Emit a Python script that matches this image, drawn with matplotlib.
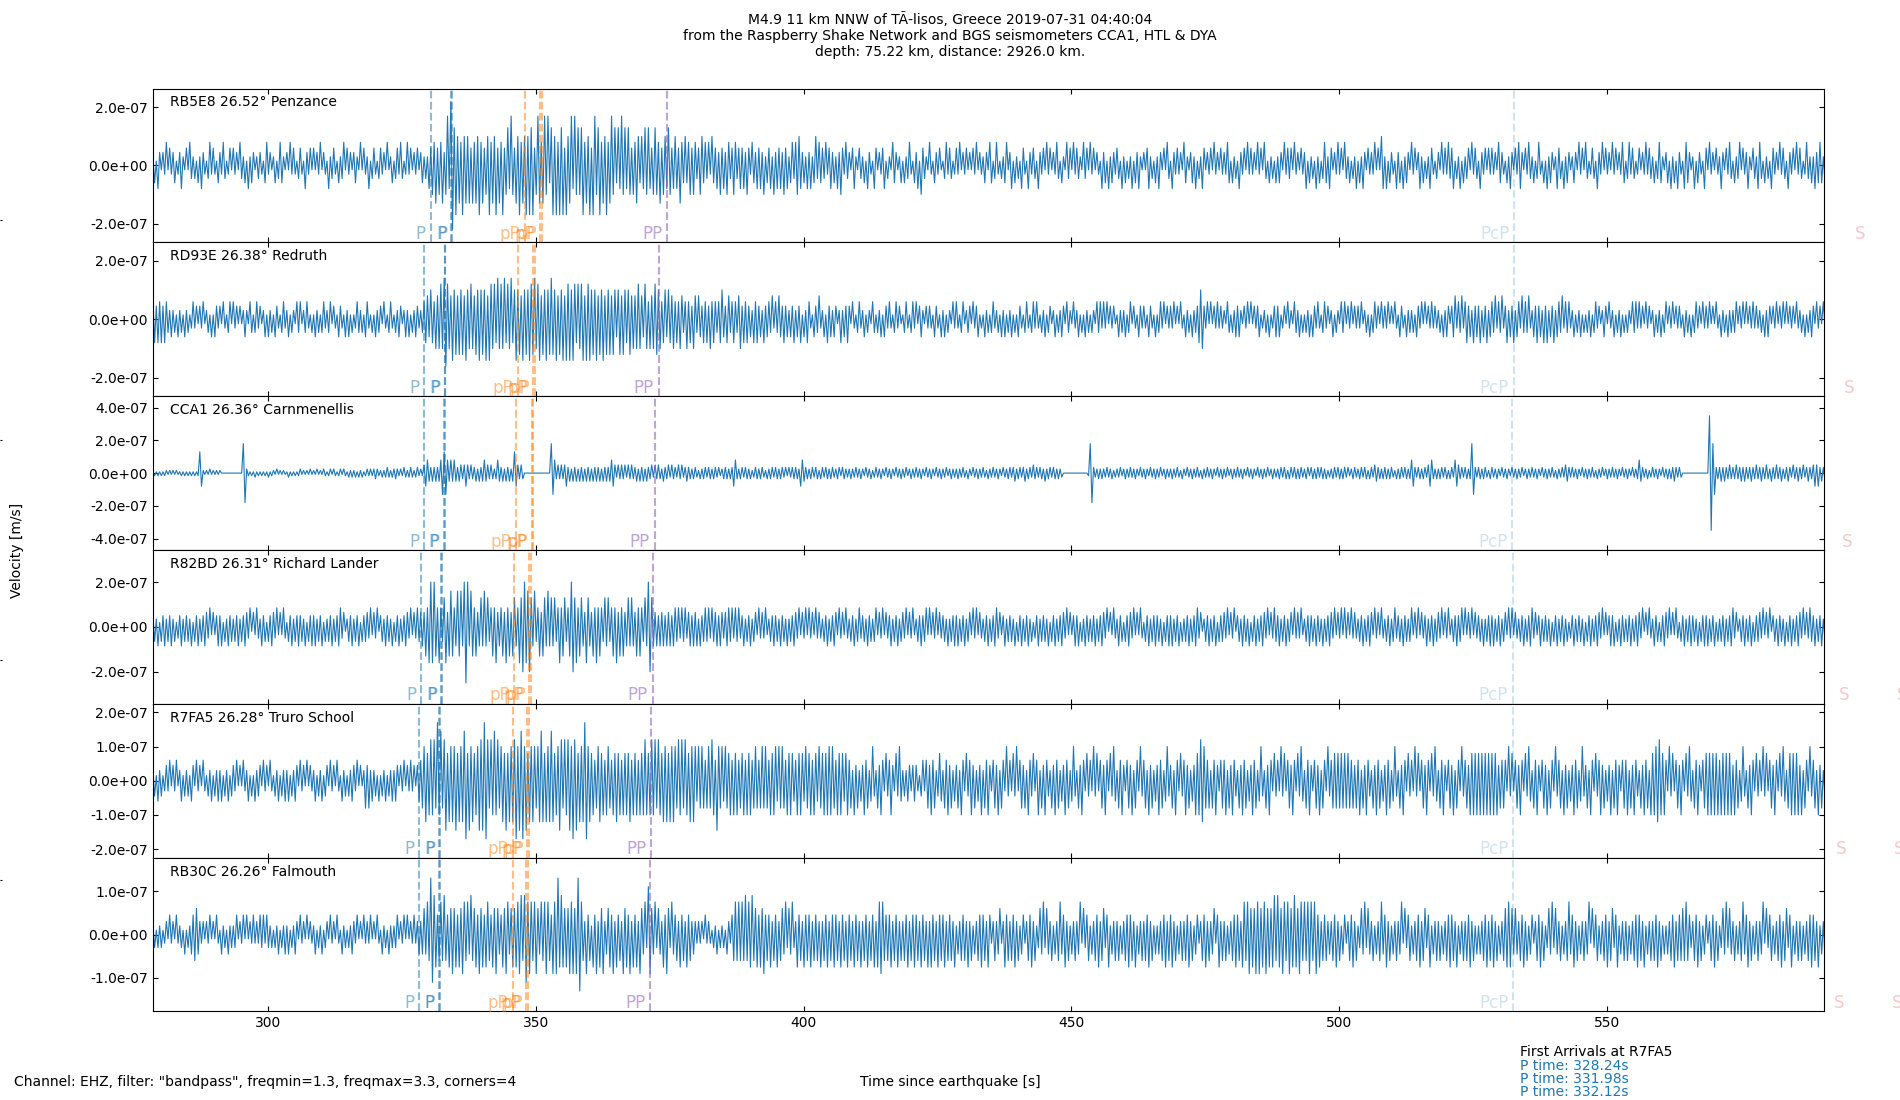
import matplotlib.pyplot as plt
import numpy as np
from matplotlib.ticker import FormatStrFormatter
from matplotlib.transforms import blended_transform_factory

# waveform samples: one digit per half-cycle peak, sign alternates up/down,
# each string is 10 s of trace (32 peaks), digit -> amplitude level (1e-7 m/s)
START = 278.5
DT = 0.3125

stations = ["RB5E8", "RD93E", "CCA1", "R82BD", "R7FA5", "RB30C"]
distances = [26.52, 26.38, 26.36, 26.31, 26.28, 26.26]
places = ["Penzance", "Redruth", "Carnmenellis", "Richard Lander", "Truro School", "Falmouth"]

p_times = [[330.37, 334.2, 334.35], [329.2, 332.95, 333.1], [329.08, 332.8, 332.95],
           [328.6, 332.3, 332.45], [328.24, 331.98, 332.12], [328.2, 331.9, 332.05]]
pp_depth_times = [[347.95, 350.75, 351.1], [346.6, 349.5, 349.85], [346.3, 349.2, 349.5],
                  [346.0, 348.7, 349.1], [345.7, 348.4, 348.7], [345.7, 348.2, 348.6]]
pp_times = [374.55, 372.9, 372.2, 371.8, 371.5, 371.3]
pcp_times = [532.7, 532.6, 532.3, 532.4, 532.5, 532.5]
s_times = [[599.2, 610.1], [597.1, 608.0], [596.7, 607.6],
           [596.1, 607.0], [595.5, 606.4], [595.2, 606.1]]

y_limits = [2.65e-7, 2.62e-7, 4.7e-7, 3.43e-7, 2.25e-7, 1.77e-7]
y_ticks = [[-2e-7, 0, 2e-7], [-2e-7, 0, 2e-7], [-4e-7, -2e-7, 0, 2e-7, 4e-7],
           [-2e-7, 0, 2e-7], [-2e-7, -1e-7, 0, 1e-7, 2e-7], [-1e-7, 0, 1e-7]]

rb5e8_levels = [0, .15, .3, .45, .6, .8, 1.0, 1.3, 1.7, 2.2]
rb5e8_peaks = [
    "24153132 51423412 35214153 23142532", "13524214 32531241 42315324 15243123",
    "32145231 24135421 31524213 42153241", "41325132 15234214 23514231 34215142",
    "25134213 42315124 13425312 52413241", "34232546 57465736 85997867 58676747",
    "57685746 68576847 58467586 47685768", "68784687 57868478 68587848 67858676",
    "78576848 86785768 57867475 86757646", "57646576 75467657 46657645 65475464",
    "56465346 64535264 45364536 53465345", "45364254 35453624 45263545 36452453",
    "56653425 35246354 43524534 25364253", "31452143 24153215 41324513 21543124",
    "14235214 35164321 52143241 13524312", "42513241 31425132 24315413 52132451",
    "35142315 42153243 15324152 41325314", "21534152 43215341 52413215 34152432",
    "43152413 25143521 31452314 25314153", "15324231 54213425 13254132 41523142",
    "32541423 15324152 42315241 53142314", "24315243 41523142 35142315 24135425",
    "41325241 53241325 14253142 32514165", "25143215 34152431 52413524 13254213",
    "31524253 45132514 23415243 15324142", "42315432 14253142 55314253 24135214",
    "15243125 43152431 24315241 53124315", "32514231 52413254 13524312 41325243",
    "24135421 34152415 32155431 25143215", "41523142 25314253 14235142 35214325",
    "53142315 42315243 15324152 43125324", "25345424",
]

rd93e_levels = [0, .15, .3, .45, .6, .8, 1.0, 1.2, 1.4, 1.6]
rd93e_peaks = [
    "45354535 43242314 23142312 42313241", "23141432 31421341 42313124 21431342",
    "31241423 14321342 24132143 41234213", "14231342 23413214 32142413 12432314",
    "42131423 31421342 13243124 24132432", "23455465 46567689 76586757 67586676",
    "57686768 58767586 76857685 68675867", "68778678 57686787 68576858 78687576",
    "78587867 68576857 67576467 57656756", "56765476 46567766 45646556 45465346",
    "45365354 35453645 43456435 53454356", "35453425 45342534 43524354 35342435",
    "24351425 42143352 24153424 31252435", "31421342 24132143 13241432 42134231",
    "13421342 41342132 32143214 24132142", "42134123 31423412 14231342 23142413",
    "24131432 13421342 42132413 31241324", "31432142 24131423 13214342 42413231",
    "14232413 41321432 32143214 13424132", "32413142 14231423 35663241 41324232",
    "21431324 34213241 41323412 23141234", "34123142 21432413 13241432 42134231",
    "24132143 41324132 32412314 13423142", "32413142 14321423 23143241 41324232",
    "23142431 34524352 45342534 35243524", "43524352 35243524 42534352 24353425",
    "35243524 43524342 24132413 13241342", "31243142 24132413 13214342 42314231",
    "24132413 41324132 32142314 13423142", "32413142 14231423 23413241 41324232",
    "23142431 32413241 41323142 23141324", "31423142",
]

cca1_levels = [0, .08, .16, .25, .35, .5, .8, 1.3, 1.8, 3.5]
cca1_peaks = [
    "12121212 21212121 12121212 12127621", "21312121 20000000 00000088 32121312",
    "12121312 21312121 13121212 31212131", "21312132 12313212 31321323 23132312",
    "32323432 23234323 34323243 23432342", "32566545 45456777 65656545 54565454",
    "45354565 54543465 45354535 76545400", "00000000 00000087 64545456 45354535",
    "45354535 45453545 45665354 54535454", "45354535 44535454 35445354 43545345",
    "44344324 34434434 43423444 34466434", "43443423 44344324 34434434 43424344",
    "44366544 34434424 43443443 34424433", "34334334 32433423 43343243 34324334",
    "33423433 43343243 34324334 33423433", "34334324 32433433 43243343 34324334",
    "43453443 45344354 43443534 43443433", "00000000 00000002 88433434 33433423",
    "33423433 43343243 34324334 33423433", "34334324 32433433 43243343 34324334",
    "33423433 43343243 34324334 33423433", "34434424 43443443 34424434 43443423",
    "34434434 43423443 34434424 43554434", "44344324 34434434 66434434 43566434",
    "34434424 43665443 44348743 44344324", "43343243 34324334 33423433 43343243",
    "34334324 33435543 43343243 34334324", "33423433 43343243 34324334 65433423",
    "43343243 34344543 43000000 00000000", "00998744 45454454 44544545 44454454",
    "45445435 44544534 45435445 44534544", "56564545",
]

r82bd_levels = [0, .2, .35, .5, .65, .85, 1.3, 1.6, 2.0, 2.5]
r82bd_peaks = [
    "34251435 24352413 35243425 14352435", "43524235 35142534 24352435 43514253",
    "25341435 43524253 14352435 34251435", "35243514 24352435 53412435 24351434",
    "43524351 34253425 14352435 43524354", "45465787 86575467 46765576 75898576",
    "56456575 64565745 56475646 65576887", "78657456 46657565 64575664 56886756",
    "65476546 57565465 64565746 56456565", "46565465 88654535 45354535 54535453",
    "45354525 34545354 45354345 54535453", "35243524 42534352 24353425 34252435",
    "43524352 53425343 24352435 42534253", "24352453 34253424 52435243 35243524",
    "43524352 24353452 52435243 34252435", "35243524 42535243 24352435 53423524",
    "34251435 24352413 35243425 14352435", "43524235 35142534 24352435 43514253",
    "25341435 43524253 14352435 34251435", "35243514 24352435 53412435 24351434",
    "43524351 34253425 14352435 43524354", "35243524 42534352 24353425 34252435",
    "43524352 53425343 24352435 42534253", "24352453 34253424 52435243 35243524",
    "43524352 24353452 52435243 34252435", "35243524 42535243 24352435 53423524",
    "34251435 24352413 35243425 14352435", "43524235 35142534 24352435 43514253",
    "25341435 43524253 14352435 34251435", "35243514 24352435 53412435 24351434",
    "43524351 34253425 14352435 43524354", "35243524",
]

r7fa5_levels = [0, .15, .3, .45, .6, .8, 1.0, 1.2, 1.45, 1.7]
r7fa5_peaks = [
    "23142312 32413241 24132314 31423142", "13241324 24132413 32413142 24131423",
    "31423142 13241324 24132431 42314132", "24132413 31423142 14231324 32413125",
    "35242314 13241324 24313241 32423134", "45675676 75968578 57676857 67895867",
    "56687899 75768675 67585767 79688968", "57676567 87576787 56687576 78697857",
    "67996756 45675646 65465756 46565746", "56465676 56767576 57675767 65767576",
    "57676465 65456576 48656465 56465645", "56465645 65456565 46566465 65465654",
    "46565465 56465465 56566665 46565456", "45263524 36452463 25364253 46325364",
    "23243234 32134245 36452354 25463524", "35264253 46352436 25463245 36254263",
    "42536245 35264352 46253643 25364524", "36452463 25364253 42635245 36425364",
    "25463245 36254263 45263524 36452463", "35264253 46352436 56776545 25463245",
    "46253643 25364524 36452463 25364253", "42635245 36425364 25463245 36254263",
    "45555555 55554535 46253643 25364524", "36452463 25364253 42635245 36425364",
    "25463245 36254263 45365656 56565656", "56563545 42635245 36425364 25463245",
    "36254263 45263524 36452463 35264253", "46352436 25463245 46253643 25364526",
    "56677656 42635245 36425364 25463245", "56565656 46565656 36452463 25364253",
    "42635245 36425364 25565656 36254263", "45263524",
]

rb30c_levels = [0, .1, .2, .3, .45, .6, .75, .9, 1.1, 1.3]
rb30c_peaks = [
    "23132312 31423142 23141324 45543231", "32413142 14231423 23413241 41324232",
    "43424323 13241324 24132431 42314132", "24132413 31423142 14231324 32413142",
    "32413142 14231423 23413241 41324234", "34546598 76456575 46575646 57656475",
    "56475646 65465754 46576456 56677578", "67656754 65676547 67967656 57675799",
    "65374526 47365734 56473645 37564736", "46375463 87546354 36475364 45364536",
    "45343232 31423213 24132314 32456565", "65756675 56465745 46354635 54635463",
    "36453645 46354536 35463546 45364536", "45364536 35463546 36676545 46354635",
    "35463546 45364536 36453645 46354536", "24354536 35243546 45364235 34523645",
    "35463524 42354635 23546354 35243564", "46352435 34625345 24354635 53462435",
    "35243546 45362435 35463524 24354635", "46352435 35463524 42354635 34524635",
    "35243546 45366567 56576756 67565675", "76576567 56765765 65676567 46354534",
    "35463524 42354635 23546354 35243564", "46352435 34625345 24354635 53462435",
    "35243546 45362435 35463524 24354635", "46352435 56665454 35463524 42354635",
    "23546354 35243564 46352435 34625345", "24354635 53462435 35243546 45362435",
    "35463524 24354635 45556543 35463524", "42354635 23546354 35243564 46352435",
    "34625345 24354635 53462435 35243546", "45362435",
]

traces = [rb5e8_peaks, rd93e_peaks, cca1_peaks, r82bd_peaks, r7fa5_peaks, rb30c_peaks]
levels = [rb5e8_levels, rd93e_levels, cca1_levels, r82bd_levels, r7fa5_levels, rb30c_levels]


def velocity(chunks, lev):
    digits = "".join(chunks).replace(" ", "")
    amp = np.array([lev[int(d)] for d in digits]) * 1e-7
    return amp * np.resize([1.0, -1.0], amp.size)


fig, axes = plt.subplots(6, 1, sharex=True, figsize=(19, 11), dpi=100)
fig.subplots_adjust(left=0.0805, right=0.96, bottom=0.0805, top=0.9195, hspace=0)

for i, ax in enumerate(axes):
    vel = velocity(traces[i], levels[i])
    t = START + DT * np.arange(vel.size)
    ax.plot(t, vel, color="C0", lw=0.8)

    trans = blended_transform_factory(ax.transData, ax.transAxes)
    phases = [("P", p_times[i], "C0", 0.5),
              ("pP", pp_depth_times[i], "C1", 0.5),
              ("PP", [pp_times[i]], "C4", 0.6),
              ("PcP", [pcp_times[i]], "C0", 0.2),
              ("S", s_times[i], "C3", 0.25)]
    for name, times, color, alpha in phases:
        for pt in times:
            ax.axvline(pt, color=color, alpha=alpha, ls="--", lw=1.5, zorder=3)
            ax.text(pt - 0.9, 0.022, name, transform=trans, color=color, alpha=alpha,
                    ha="right", va="baseline", fontsize=12)

    ax.text(0.01, 0.955, f"{stations[i]} {distances[i]:.2f}° {places[i]}",
            transform=ax.transAxes, va="top", fontsize=10)
    ax.set_ylim(-y_limits[i], y_limits[i])
    ax.set_yticks(y_ticks[i])
    ax.yaxis.set_major_formatter(FormatStrFormatter("%.1e"))
    ax.tick_params(direction="in", top=True, right=True, labelsize=10)
    ax.set_xlim(278.5, 590.5)

axes[-1].set_xticks([300, 350, 400, 450, 500, 550])

# hidden full-figure axes (only its left ticks show at the figure edge)
bg = fig.add_axes([0, 0, 1, 1], frameon=False, zorder=-1)
bg.set_xticks([])
bg.set_yticks([0.2, 0.4, 0.6, 0.8])
bg.tick_params(axis="y", direction="in", length=1.5, labelleft=False)

fig.suptitle("M4.9 11 km NNW of T\u00c3\u00adlisos, Greece 2019-07-31 04:40:04\n"
             "from the Raspberry Shake Network and BGS seismometers CCA1, HTL & DYA\n"
             "depth: 75.22 km, distance: 2926.0 km.", y=0.989, va="top", fontsize=10)
fig.text(0.5, 0.0127, "Time since earthquake [s]", ha="center", va="baseline", fontsize=10)
fig.text(0.0092, 0.5, "Velocity [m/s]", rotation=90, ha="center", va="center", fontsize=10)
fig.text(0.0074, 0.0127, 'Channel: EHZ, filter: "bandpass", freqmin=1.3, freqmax=3.3, corners=4',
         ha="left", va="baseline", fontsize=10)

fig.text(0.8, 0.04, "First Arrivals at R7FA5", ha="left", va="baseline", fontsize=10)
for k, pt in enumerate(p_times[4]):
    fig.text(0.8, 0.0273 - k * 0.0118, f"P time: {pt:.2f}s", color="C0",
             ha="left", va="baseline", fontsize=10)

fig.savefig("out.png", dpi=100)
